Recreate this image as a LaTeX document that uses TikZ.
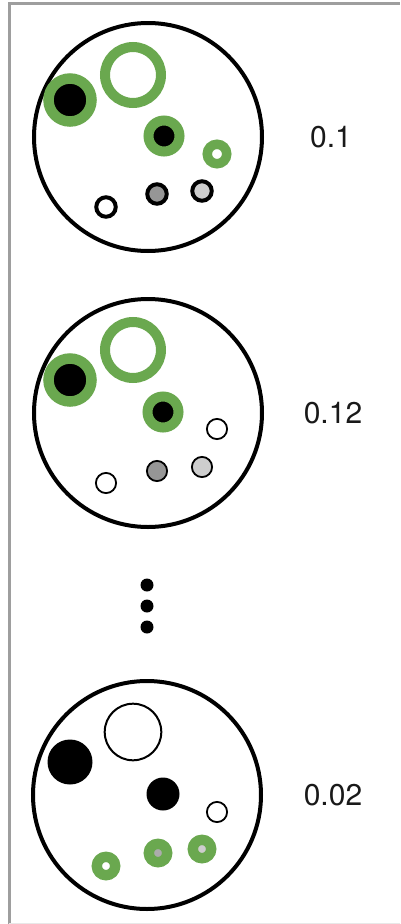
\documentclass[tikz,border=0pt]{standalone}
\usepackage{fontspec}
\setmainfont{TeX Gyre Heros}
\definecolor{Leaf}{RGB}{106,168,79}
\definecolor{FrameGray}{RGB}{158,158,158}
\definecolor{EdgeGray}{RGB}{232,232,232}
\definecolor{DarkBead}{RGB}{150,150,150}
\definecolor{MidBead}{RGB}{172,172,172}
\definecolor{LightBead}{RGB}{205,205,205}
\tikzset{
  plate/.style={circle,draw=black,line width=4pt,minimum size=228pt,inner sep=0pt},
  blob/.style={circle,inner sep=0pt,outer sep=0pt},
  ringbig/.style={blob,draw=Leaf,line width=10pt,fill=white,minimum size=56pt},
  corebig/.style={blob,draw=Leaf,line width=10.5pt,fill=black,minimum size=43pt},
  coremid/.style={blob,draw=Leaf,line width=10pt,fill=black,minimum size=31pt},
  ringsmall/.style={blob,draw=Leaf,line width=9.5pt,fill=white,minimum size=19.5pt},
  bead/.style={blob,draw=black,line width=4pt,minimum size=19.5pt},
  beadthin/.style={blob,draw=black,line width=1.8pt,minimum size=20.2pt},
  seed/.style={blob,draw=Leaf,line width=10.4pt,minimum size=18.4pt},
  blackbig/.style={blob,fill=black,minimum size=45pt},
  blackmid/.style={blob,fill=black,minimum size=33pt},
  hollowbig/.style={blob,draw=black,line width=2pt,fill=white,minimum size=56.6pt},
  gapdot/.style={blob,fill=black,minimum size=13pt},
  score/.style={font=\fontsize{30}{36}\selectfont,inner sep=0pt,text=black!90}
}

\begin{document}
\begin{tikzpicture}[x=1pt,y=-1pt]
\useasboundingbox (0,0) rectangle (400,924);
\fill[white] (0,0) rectangle (400,924);
\draw[FrameGray,line width=3pt] (9,924) -- (9,3) -- (400,3);
\draw[EdgeGray,line width=1pt] (9,923) -- (400,923);

% first sample
\node[plate] (plateA) at (148,137) {};
\node[ringbig] (ringA) at (133,75) {};
\node[corebig] (coreA) at (70,100) {};
\node[coremid] (midA) at (164,136) {};
\node[ringsmall] (smallA) at (217,154) {};
\node[bead,fill=white] (whiteA) at (106,207) {};
\node[bead,fill=DarkBead] (darkA) at (157,194) {};
\node[bead,fill=LightBead] (lightA) at (202,191) {};
\node[score] (scoreA) at (331,137) {0.1};

% second sample
\node[plate] (plateB) at (148,413) {};
\node[ringbig] (ringB) at (133,350) {};
\node[corebig] (coreB) at (70,380) {};
\node[coremid] (midB) at (163,412) {};
\node[beadthin,fill=white] (smallB) at (217,429) {};
\node[beadthin,fill=DarkBead] (darkB) at (157,471) {};
\node[beadthin,fill=LightBead] (lightB) at (202,467) {};
\node[beadthin,fill=white] (whiteB) at (106,483) {};
\node[score] (scoreB) at (333,413) {0.12};

% gap
\node[gapdot] (gapA) at (147,585) {};
\node[gapdot] (gapB) at (147,606) {};
\node[gapdot] (gapC) at (147,627) {};

% last sample
\node[plate] (plateC) at (147,795) {};
\node[hollowbig] (ringC) at (133,732) {};
\node[blackbig] (coreC) at (70,762) {};
\node[blackmid] (midC) at (163,794) {};
\node[beadthin,fill=white] (smallC) at (217,812) {};
\node[seed,fill=white] (whiteC) at (106,866) {};
\node[seed,fill=MidBead] (darkC) at (158,853) {};
\node[seed,fill=LightBead] (lightC) at (202,849) {};
\node[score] (scoreC) at (333,795) {0.02};
\end{tikzpicture}
\end{document}
